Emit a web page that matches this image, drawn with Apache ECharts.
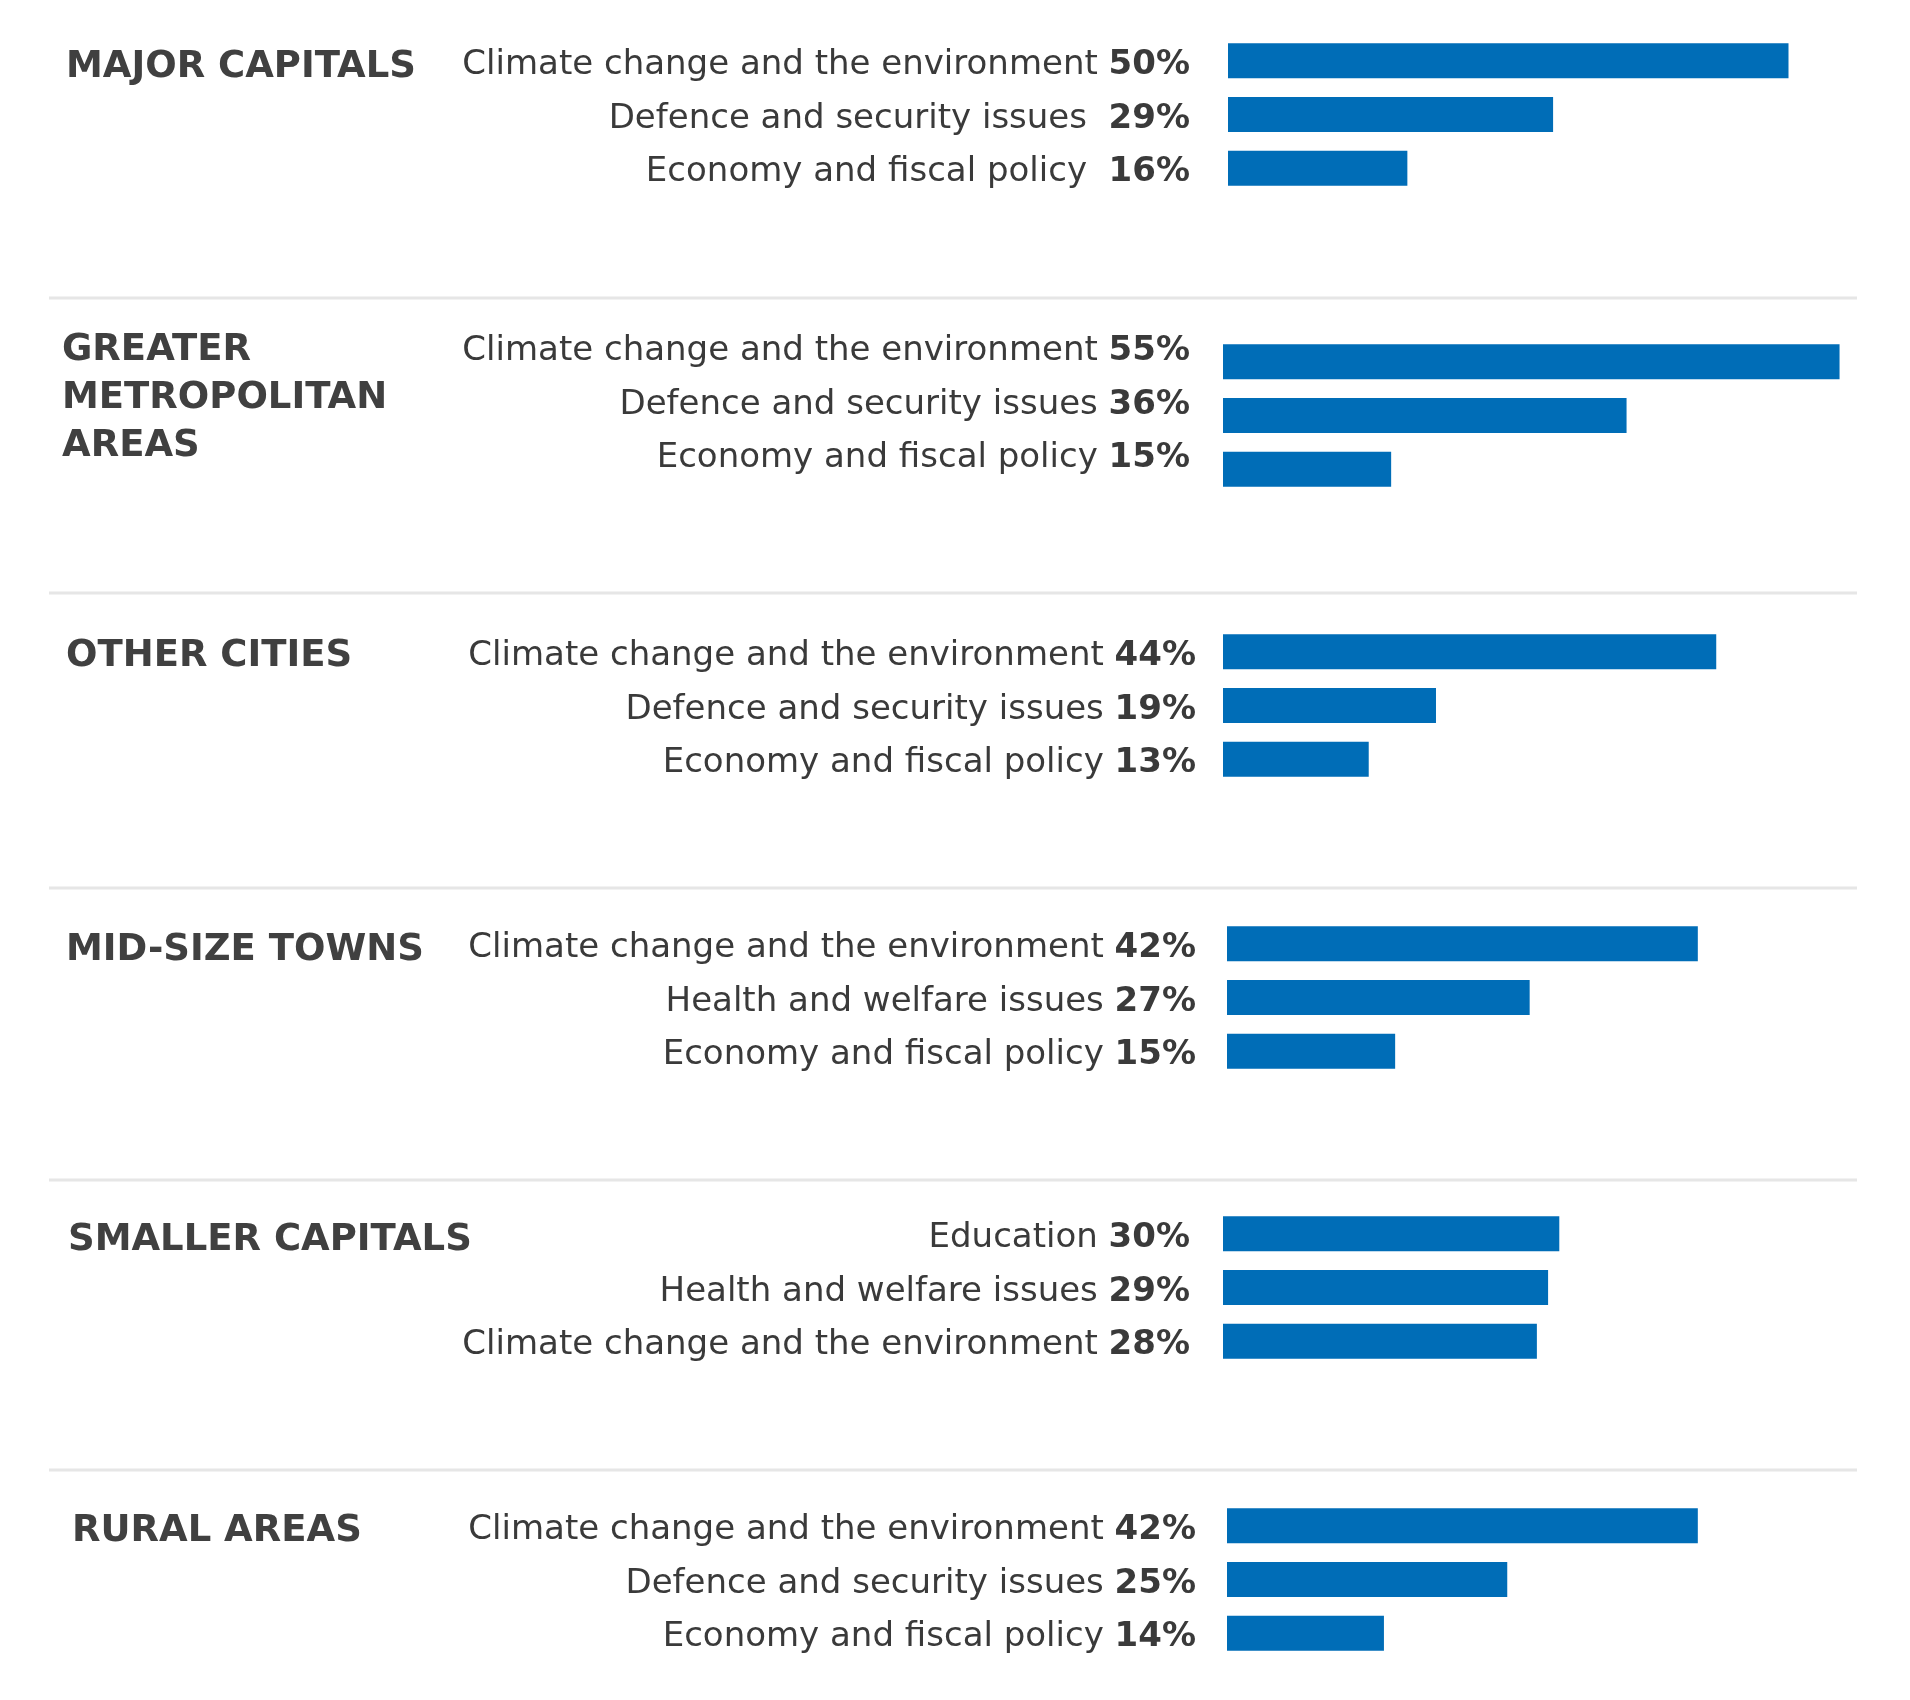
<!DOCTYPE html>
<html>
<head>
<meta charset="utf-8">
<title>Top issues by area type</title>
<script src="https://cdn.jsdelivr.net/npm/echarts@6/dist/echarts.min.js"></script>
<style>
  html, body { margin: 0; padding: 0; background: #fff; }
  #chart { width: 1910px; height: 1700px; }
</style>
</head>
<body>
<div id="chart"></div>
<script>
'use strict';

// 数据
var regionNames = ['MAJOR CAPITALS', 'GREATER\nMETROPOLITAN\nAREAS', 'OTHER CITIES', 'MID-SIZE TOWNS', 'SMALLER CAPITALS', 'RURAL AREAS'];

var majorCapitalsIssues = ['Climate change and the environment', 'Defence and security issues', 'Economy and fiscal policy'];
var majorCapitalsValues = [50, 29, 16];

var metroIssues = ['Climate change and the environment', 'Defence and security issues', 'Economy and fiscal policy'];
var metroValues = [55, 36, 15];

var otherCitiesIssues = ['Climate change and the environment', 'Defence and security issues', 'Economy and fiscal policy'];
var otherCitiesValues = [44, 19, 13];

var midSizeIssues = ['Climate change and the environment', 'Health and welfare issues', 'Economy and fiscal policy'];
var midSizeValues = [42, 27, 15];

var smallerCapitalsIssues = ['Education', 'Health and welfare issues', 'Climate change and the environment'];
var smallerCapitalsValues = [30, 29, 28];

var ruralIssues = ['Climate change and the environment', 'Defence and security issues', 'Economy and fiscal policy'];
var ruralValues = [42, 25, 14];

var issueLists = [majorCapitalsIssues, metroIssues, otherCitiesIssues, midSizeIssues, smallerCapitalsIssues, ruralIssues];
var valueLists = [majorCapitalsValues, metroValues, otherCitiesValues, midSizeValues, smallerCapitalsValues, ruralValues];

// 布局
var BLUE = '#006db7';
var TEXT = '#3a3a3a';
var FONT = '"DejaVu Sans", sans-serif';
var AXIS_MAX = 60;
var PX_PER_PCT = 11.21;
// labelPad: [上, 下] 用来微调标签的垂直位置
var panels = [
    { top: 34,   barLeft: 1228, labelGap: 38, labelPad: [9, 0],  titleX: 61, titleY: 38 },
    { top: 335,  barLeft: 1223, labelGap: 33, labelPad: [0, 21], titleX: 57, titleY: 321 },
    { top: 625,  barLeft: 1223, labelGap: 27, labelPad: [9, 0],  titleX: 61, titleY: 627 },
    { top: 917,  barLeft: 1227, labelGap: 31, labelPad: [9, 0],  titleX: 61, titleY: 921 },
    { top: 1207, barLeft: 1223, labelGap: 33, labelPad: [9, 0],  titleX: 63, titleY: 1211 },
    { top: 1499, barLeft: 1227, labelGap: 31, labelPad: [9, 0],  titleX: 67, titleY: 1502 }
];
var separatorsY = [298, 593, 888, 1180, 1470];

var grids = [], xAxes = [], yAxes = [], series = [], titles = [], graphics = [];

panels.forEach(function (p, i) {
    var width = AXIS_MAX * PX_PER_PCT;
    grids.push({
        left: p.barLeft,
        top: p.top,
        width: width,
        height: 161,
        containLabel: false
    });
    xAxes.push({
        gridIndex: i,
        type: 'value',
        min: 0,
        max: AXIS_MAX,
        show: false
    });
    var vals = valueLists[i];
    yAxes.push({
        gridIndex: i,
        type: 'category',
        inverse: true,
        data: issueLists[i],
        axisLine: { show: false },
        axisTick: { show: false },
        splitLine: { show: false },
        axisLabel: {
            margin: p.labelGap,
            padding: [p.labelPad[0], 0, p.labelPad[1], 0],
            formatter: function (name, idx) {
                var sp = (i === 0 && idx > 0) ? '  ' : ' ';
                return '{n|' + name + sp + '}{v|' + vals[idx] + '%}';
            },
            rich: {
                n: { fontFamily: FONT, fontSize: 34, color: TEXT },
                v: { fontFamily: FONT, fontSize: 34, fontWeight: 'bold', color: TEXT }
            }
        }
    });
    series.push({
        type: 'bar',
        xAxisIndex: i,
        yAxisIndex: i,
        data: vals,
        barWidth: 35,
        itemStyle: { color: BLUE },
        silent: true
    });
    titles.push({
        text: regionNames[i],
        left: p.titleX,
        top: p.titleY,
        textStyle: {
            fontFamily: FONT,
            fontSize: 37,
            fontWeight: 'bold',
            color: '#404040',
            lineHeight: 48
        }
    });
});

separatorsY.forEach(function (y) {
    graphics.push({
        type: 'rect',
        shape: { x: 49, y: y - 1.5, width: 1808, height: 3 },
        style: { fill: '#e6e6e6' },
        silent: true
    });
});

var chart = echarts.init(document.getElementById('chart'));
chart.setOption({
    backgroundColor: '#ffffff',
    animation: false,
    title: titles,
    grid: grids,
    xAxis: xAxes,
    yAxis: yAxes,
    series: series,
    graphic: graphics
});
</script>
</body>
</html>
